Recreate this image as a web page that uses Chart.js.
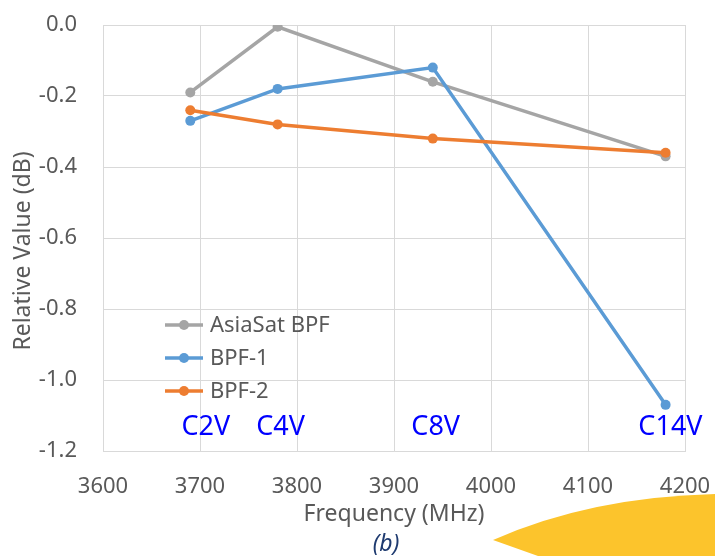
<!DOCTYPE html>
<html>
<head>
<meta charset="utf-8">
<script src="https://cdn.jsdelivr.net/npm/chart.js@4.4.1/dist/chart.umd.min.js"></script>
<style>
  html, body { margin: 0; padding: 0; background: #ffffff; }
  #wrap { width: 715px; height: 556px; position: relative; }
</style>
</head>
<body>
<div id="wrap"><canvas id="c" width="715" height="556"></canvas></div>
<script>
// ---- data ----
const frequencies = [3690, 3780, 3940, 4180];
const asiaSatBPF = [-0.19, -0.005, -0.16, -0.37];
const bpf1 = [-0.27, -0.18, -0.12, -1.07];
const bpf2 = [-0.24, -0.28, -0.32, -0.36];
const seriesNames = ['AsiaSat BPF', 'BPF-1', 'BPF-2'];
const channelLabels = ['C2V', 'C4V', 'C8V', 'C14V'];
const channelLabelFreq = [3706, 3783, 3943, 4185];
const channelLabelValue = -1.132;
const xTicks = [3600, 3700, 3800, 3900, 4000, 4100, 4200];
const yTicks = [0.0, -0.2, -0.4, -0.6, -0.8, -1.0, -1.2];
const yTitle = 'Relative Value (dB)';
const xTitle = 'Frequency (MHz)';
const subCaption = '(b)';

const FONT = '"Noto Sans", "Open Sans", sans-serif';
const TXT = '#595959';
const GRID = '#d9d9d9';
const colors = ['#a5a5a5', '#5b9bd5', '#ed7d31'];

function pts(vals) { return frequencies.map((f, i) => ({ x: f, y: vals[i] })); }

const mkDs = (label, vals, color, order) => ({
  label, data: pts(vals), borderColor: color, backgroundColor: color,
  borderWidth: 3.5, pointRadius: 5, pointHoverRadius: 5, pointBorderWidth: 0,
  showLine: true, tension: 0, order
});

const overlay = {
  id: 'overlay',
  afterDatasetsDraw(chart) {
    const ctx = chart.ctx;
    const xs = chart.scales.x, ys = chart.scales.y;
    ctx.save();
    // channel labels
    ctx.font = '27px ' + FONT;
    ctx.fillStyle = '#0000ff';
    ctx.textAlign = 'center';
    ctx.textBaseline = 'middle';
    channelLabels.forEach((t, i) => {
      ctx.fillText(t, xs.getPixelForValue(channelLabelFreq[i]), ys.getPixelForValue(channelLabelValue));
    });
    // legend
    const lx = 165, ly0 = 325, dy = 33;
    chart.data.datasets.forEach((ds, i) => {
      const y = ly0 + i * dy;
      ctx.strokeStyle = ds.borderColor;
      ctx.lineWidth = 3.5;
      ctx.beginPath(); ctx.moveTo(lx, y); ctx.lineTo(lx + 38, y); ctx.stroke();
      ctx.fillStyle = ds.borderColor;
      ctx.beginPath(); ctx.arc(lx + 19, y, 5, 0, Math.PI * 2); ctx.fill();
      ctx.fillStyle = TXT;
      ctx.font = '22px ' + FONT;
      ctx.textAlign = 'left';
      ctx.textBaseline = 'middle';
      ctx.fillText(ds.label, lx + 45, y + 1);
    });
    ctx.restore();
  },
  afterDraw(chart) {
    const ctx = chart.ctx;
    ctx.save();
    // y axis title (slightly below centre, as in the reference)
    ctx.translate(23, 251);
    ctx.rotate(-Math.PI / 2);
    ctx.fillStyle = TXT;
    ctx.font = '23px ' + FONT;
    ctx.textAlign = 'center';
    ctx.textBaseline = 'middle';
    ctx.fillText(yTitle, 0, 0);
    ctx.restore();
    ctx.save();
    // yellow decorative shape
    ctx.fillStyle = '#fcc42c';
    ctx.beginPath();
    ctx.moveTo(493, 540);
    ctx.quadraticCurveTo(590, 497, 715, 494);
    ctx.lineTo(715, 556);
    ctx.lineTo(538, 556);
    ctx.closePath();
    ctx.fill();
    // caption
    ctx.fillStyle = '#1f3b70';
    ctx.font = 'italic 23px ' + FONT;
    ctx.textAlign = 'center';
    ctx.textBaseline = 'middle';
    ctx.fillText(subCaption, 386, 544);
    ctx.restore();
  }
};

new Chart(document.getElementById('c'), {
  type: 'scatter',
  data: {
    datasets: [
      mkDs(seriesNames[0], asiaSatBPF, colors[0], 3),
      mkDs(seriesNames[1], bpf1, colors[1], 2),
      mkDs(seriesNames[2], bpf2, colors[2], 1)
    ]
  },
  options: {
    responsive: false,
    devicePixelRatio: 1,
    animation: false,
    layout: { padding: { left: 0, right: 30, top: 25, bottom: 28 } },
    plugins: { legend: { display: false }, tooltip: { enabled: false } },
    scales: {
      x: {
        type: 'linear', min: 3600, max: 4200,
        afterBuildTicks(s) { s.ticks = xTicks.map(v => ({ value: v })); },
        afterFit(s) { s.height = 77; s.paddingLeft = 0; s.paddingRight = 0; s.paddingTop = 0; s.paddingBottom = 0; },
        grid: { color: GRID, lineWidth: 1, drawTicks: false, tickLength: 0 },
        border: { color: GRID, width: 1 },
        ticks: { color: TXT, font: { family: FONT, size: 22 }, padding: 23, maxRotation: 0,
                 callback: v => String(v) },
        title: { display: true, text: xTitle, color: TXT,
                 font: { family: FONT, size: 23 }, padding: { top: 0, bottom: 0 } }
      },
      y: {
        type: 'linear', min: -1.2, max: 0,
        afterBuildTicks(s) { s.ticks = yTicks.map(v => ({ value: v })); },
        afterFit(s) { s.width = 103; s.paddingLeft = 0; s.paddingRight = 0; s.paddingTop = 0; s.paddingBottom = 0; },
        grid: { color: GRID, lineWidth: 1, drawTicks: false, tickLength: 0 },
        border: { color: GRID, width: 1 },
        ticks: { color: TXT, font: { family: FONT, size: 22 }, padding: 26,
                 callback: v => Number(v).toFixed(1) },
        title: { display: false }
      }
    }
  },
  plugins: [overlay]
});
</script>
</body>
</html>
